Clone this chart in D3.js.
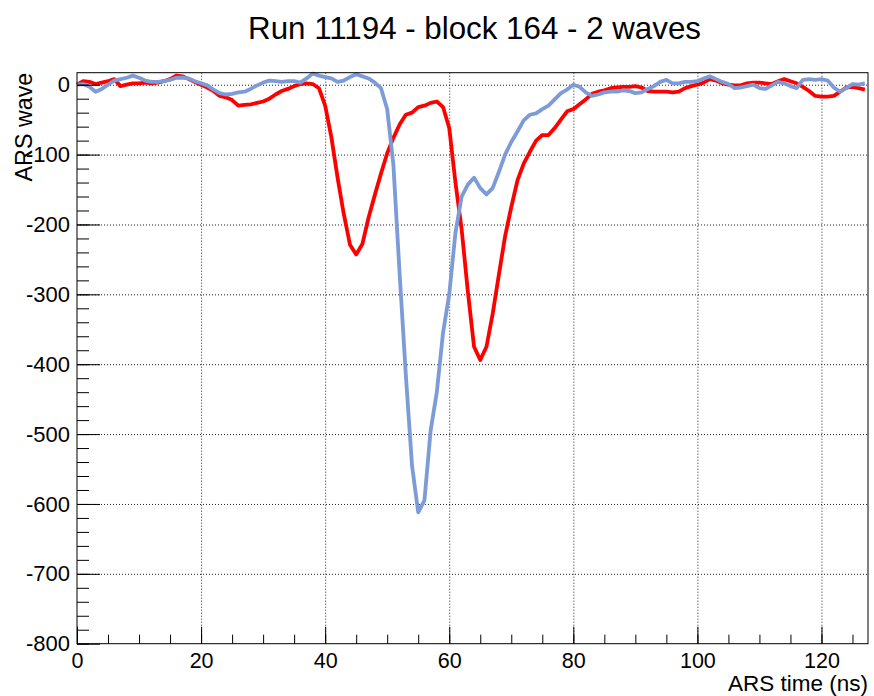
<!DOCTYPE html>
<html>
<head>
<meta charset="utf-8">
<script src="https://cdn.jsdelivr.net/npm/d3@7"></script>
<style>
  body { margin: 0; background: #fff; }
  svg { display: block; font-family: "Liberation Sans", Arial, Helvetica, sans-serif; }
</style>
</head>
<body>
<svg id="chart" width="874" height="696"></svg>
<script>
// ---- data ----
const title = "Run 11194 - block 164 - 2 waves";
const xLabel = "ARS time (ns)";
const yLabel = "ARS wave";
const times = d3.range(0, 128);           // sample times (ns)
const redWave = [
  0, 5, 4, 1, 3, 5, 8, -2, 0, 2,
  2, 3, 2, 3, 5, 8, 13, 12, 8, 4,
  0, -4, -9, -16, -18, -22, -30, -29, -28, -26,
  -24, -20, -14, -9, -6, -2, 1, 2, 1, -5,
  -30, -75, -133, -185, -229, -243, -228, -190, -158, -127,
  -98, -76, -57, -43, -40, -32, -30, -26, -24, -32,
  -62, -140, -207, -296, -375, -394, -375, -328, -272, -217,
  -175, -137, -113, -96, -80, -72, -72, -62, -50, -38,
  -35, -28, -21, -13, -10, -8, -5, -4, -3, -3,
  -2, -4, -9, -10, -10, -10, -11, -10, -5, -2,
  0, 3, 8, 6, 2, 0, -1, -1, 2, 3,
  3, 2, 1, 5, 8, 5, 2, -3, -9, -16,
  -17, -17, -16, -10, -4, -3, -5, -7
];
const blueWave = [
  0, 1, -3, -10, -6, 0, 6, 8, 10, 13,
  10, 6, 4, 4, 5, 7, 10, 10, 9, 5,
  2, -1, -7, -12, -14, -13, -11, -10, -6, -1,
  3, 6, 5, 4, 5, 5, 3, 9, 16, 13,
  11, 9, 4, 6, 11, 15, 12, 9, 3, -5,
  -35, -115, -270, -415, -545, -612, -595, -495, -440, -355,
  -300, -212, -160, -143, -133, -148, -157, -148, -125, -100,
  -82, -67, -51, -43, -41, -35, -30, -21, -12, -7,
  0, -3, -11, -16, -14, -11, -10, -10, -8, -9,
  -12, -11, -6, -2, 4, 7, 2, 2, 4, 4,
  5, 9, 12, 8, 4, 1, -5, -4, -2, 0,
  -5, -6, -1, 4, 2, -2, -5, 7, 8, 7,
  8, 6, -4, -10, -5, 1, 0, 2
];
const xMajorTicks = [0, 20, 40, 60, 80, 100, 120];
const xMinorTicks = d3.range(0, 128, 5);
const yMajorTicks = [0, -100, -200, -300, -400, -500, -600, -700, -800];
const yMinorTicks = d3.range(-800, 1, 20);
const xDomain = [0, 127.5];
const yDomain = [-800, 17.2];

// ---- layout ----
const L = 77, R = 868, T = 72.7, B = 643.7;
const svg = d3.select("#chart");
const x = d3.scaleLinear().domain(xDomain).range([L, R]);
const y = d3.scaleLinear().domain(yDomain).range([B, T]);
const fmt = d => String(d);   // plain hyphen-minus like the reference

// grid
const gridStyle = g => g.selectAll("line").attr("stroke", "#222").attr("stroke-width", 1).attr("stroke-dasharray", "1,2");
svg.append("g").attr("transform", `translate(0,${B})`)
  .call(d3.axisBottom(x).tickValues(xMajorTicks.filter(v => v > 0)).tickSize(-(B - T)).tickFormat(""))
  .call(g => g.select(".domain").remove())
  .call(gridStyle);
svg.append("g").attr("transform", `translate(${L},0)`)
  .call(d3.axisLeft(y).tickValues(yMajorTicks.filter(v => v > -800)).tickSize(-(R - L)).tickFormat(""))
  .call(g => g.select(".domain").remove())
  .call(gridStyle);

// curves
const line = d3.line().x((d, i) => x(times[i])).y(d => y(d));
svg.append("path").datum(redWave).attr("d", line)
  .attr("fill", "none").attr("stroke", "#ff0000").attr("stroke-width", 3.8).attr("stroke-linejoin", "round");
svg.append("path").datum(blueWave).attr("d", line)
  .attr("fill", "none").attr("stroke", "#7c9bd7").attr("stroke-width", 3.8).attr("stroke-linejoin", "round");

// frame
svg.append("rect").attr("x", L).attr("y", T).attr("width", R - L).attr("height", B - T)
  .attr("fill", "none").attr("stroke", "#000").attr("stroke-width", 1);

// axes (ticks inward)
const tickStyle = g => { g.select(".domain").remove(); g.selectAll("line").attr("stroke", "#000").attr("stroke-width", 1); };
svg.append("g").attr("transform", `translate(0,${B})`)
  .call(d3.axisBottom(x).tickValues(xMinorTicks).tickSize(-9).tickFormat(""))
  .call(tickStyle);
const xAx = svg.append("g").attr("transform", `translate(0,${B})`)
  .call(d3.axisBottom(x).tickValues(xMajorTicks).tickSize(-17).tickFormat(fmt))
  .call(tickStyle);
xAx.selectAll("text").attr("y", 24.3).attr("dy", null)
  .attr("font-size", 21.5).attr("fill", "#000").attr("font-family", "Liberation Sans, Arial, sans-serif");

svg.append("g").attr("transform", `translate(${L},0)`)
  .call(d3.axisLeft(y).tickValues(yMinorTicks).tickSize(-12).tickFormat(""))
  .call(tickStyle);
const yAx = svg.append("g").attr("transform", `translate(${L},0)`)
  .call(d3.axisLeft(y).tickValues(yMajorTicks).tickSize(-23).tickPadding(7).tickFormat(fmt))
  .call(tickStyle);
yAx.selectAll("text").attr("font-size", 22).attr("fill", "#000")
  .attr("font-family", "Liberation Sans, Arial, sans-serif");

// labels
svg.append("text").attr("x", 474.5).attr("y", 39).attr("text-anchor", "middle")
  .attr("font-size", 31.3).attr("fill", "#000").text(title);
svg.append("text").attr("x", R).attr("y", 691).attr("text-anchor", "end")
  .attr("font-size", 22.5).attr("fill", "#000").text(xLabel);
svg.append("text").attr("transform", `translate(32,${T}) rotate(-90)`).attr("text-anchor", "end")
  .attr("font-size", 23.3).attr("fill", "#000").text(yLabel);
</script>
</body>
</html>
